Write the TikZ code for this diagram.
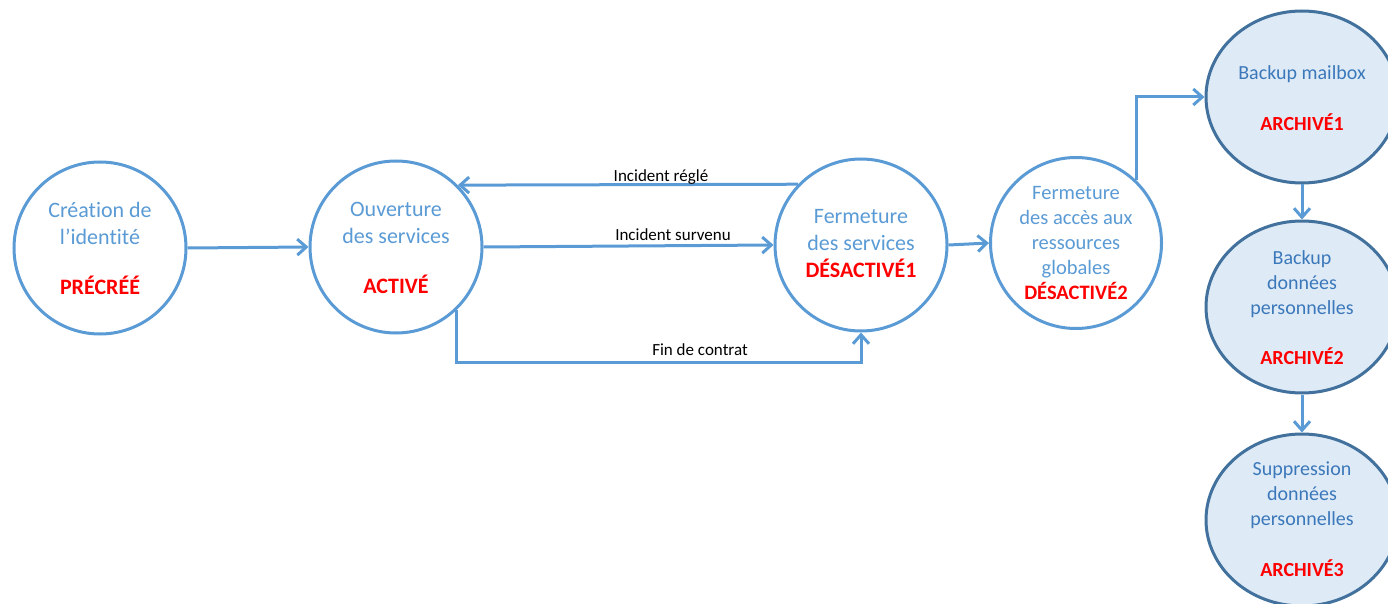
\documentclass[tikz,border=0pt]{standalone}
\usepackage{fontspec}
\setmainfont{Carlito}[Ligatures={NoCommon}]
\usetikzlibrary{arrows.meta,shapes.geometric}
\definecolor{lineblue}{HTML}{5B9BD5}
\definecolor{darkblue}{HTML}{41719C}
\definecolor{fillblue}{HTML}{DEEBF7}
\definecolor{txtblue}{HTML}{5B9BD5}
\definecolor{txtdark}{HTML}{3B78BA}
\definecolor{redtxt}{HTML}{FF0000}
\newcommand{\redtag}[1]{{\color{redtxt}\bfseries #1}}
\begin{document}
\begin{tikzpicture}[x=1pt,y=-1pt,
  statebox/.style={circle, draw=lineblue, line width=3pt, minimum size=172pt, inner sep=0pt, fill=white},
  archbox/.style={ellipse, draw=darkblue, fill=fillblue, line width=3pt, minimum width=192pt, minimum height=172pt, inner sep=0pt},
  bigtxt/.style={align=center, text=txtblue, font=\fontsize{22}{27}\selectfont, inner sep=0pt},
  smalltxt/.style={align=center, text=txtblue, font=\fontsize{20.5}{25}\selectfont, inner sep=0pt},
  archtxt/.style={align=center, text=txtdark, font=\fontsize{20}{25}\selectfont, inner sep=0pt},
  conn/.style={draw=lineblue, line width=3pt, -{Straight Barb[length=9pt,width=16pt]}},
  lbl/.style={font=\fontsize{17}{20}\selectfont, text=black, inner sep=0pt}]
\useasboundingbox (0,0) rectangle (1388,604);
\clip (0,0) rectangle (1388,604);

\node[statebox] (c1) at (100,248) {};
\node[statebox] (c2) at (396,247) {};
\node[statebox] (c3) at (861,245) {};
\node[statebox, minimum size=171pt] (c4) at (1076,243) {};
\node[archbox] (c5) at (1302,97) {};
\node[archbox] (c6) at (1302,307) {};
\node[archbox] (c7) at (1302,520) {};

\node[bigtxt] (t1) at (100,248) {Création de\\l’identité\\[23pt]\redtag{PRÉCRÉÉ}};
\node[bigtxt] (t2) at (396,248) {Ouverture\\des services\\[23pt]\redtag{ACTIVÉ}};
\node[bigtxt] (t3) at (861,244) {Fermeture\\des services\\\redtag{DÉSACTIVÉ1}};
\node[smalltxt] (t4) at (1076,243) {Fermeture\\des accès aux\\ressources\\globales\\\redtag{DÉSACTIVÉ2}};
\node[archtxt] (t5) at (1302,98) {Backup mailbox\\[26pt]\redtag{ARCHIVÉ1}};
\node[archtxt] (t6) at (1302,308) {Backup\\données\\personnelles\\[25pt]\redtag{ARCHIVÉ2}};
\node[archtxt] (t7) at (1302,519) {Suppression\\données\\personnelles\\[26pt]\redtag{ARCHIVÉ3}};

\draw[conn] (c1.east) -- (c2.west);
\draw[conn] (c3.136) -- (c2.45);
\draw[conn] (c2.east) -- (c3.west);
\coordinate (fbot) at (456,362);
\draw[conn] (c2.-46) -- (c2.-46 |- fbot) -- (c3.south |- fbot) -- (c3.south);
\draw[conn] (c3.east) -- (c4.west);
\draw[conn] (c4.46) |- (c5.west);
\draw[conn] (c5.south) -- (c6.north);
\draw[conn] (c6.south) -- (c7.north);

\node[lbl] (l1) at (661,177) {Incident réglé};
\node[lbl] (l2) at (673,235) {Incident survenu};
\node[lbl] (l3) at (700,350) {Fin de contrat};
\end{tikzpicture}
\end{document}
